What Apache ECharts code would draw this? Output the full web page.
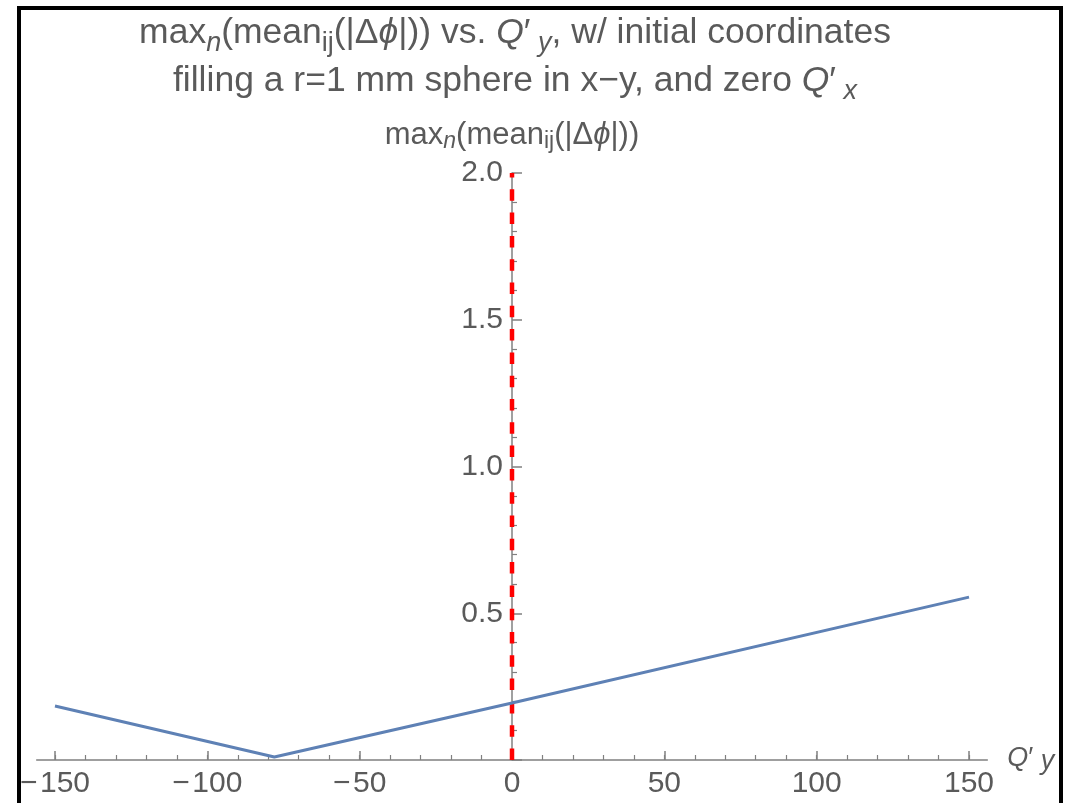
<!DOCTYPE html>
<html>
<head>
<meta charset="utf-8">
<script src="https://cdn.jsdelivr.net/npm/echarts@6/dist/echarts.min.js"></script>
<style>
  html, body { margin: 0; padding: 0; background: #fff; }
  #chart { width: 1069px; height: 803px; position: absolute; left: 0; top: 0; }
  #frame { position: absolute; left: 17px; top: 6px; width: 1038px; height: 820px;
           border: 4px solid #000; pointer-events: none; }
</style>
</head>
<body>
<div id="chart"></div>
<div id="frame"></div>
<script>
// Q'_y sweep and the resulting max_n(mean_ij(|Δφ|))
const qPrimeY = [-150, -78, 0, 150];
const maxMeanDPhi = [0.184, 0.01, 0.194, 0.555];

// vertical reference marker at Q'_y = 0
const markerX = [0, 0];
const markerY = [0, 2.0];

// axis tick positions
const xMajorTicks = [-150, -100, -50, 0, 50, 100, 150];
const xMinorTicks = [];
for (let v = -150; v <= 150; v += 10) xMinorTicks.push(v);

const FONT = '"Liberation Sans", Arial, sans-serif';
const TXT = '#5a5a5a';
const AXIS = '#808080';

const GRID_LEFT = 36.7, GRID_RIGHT = 81.7, GRID_TOP = 173, GRID_BOTTOM = 43;
const W = 1069;
const gridWidth = W - GRID_LEFT - GRID_RIGHT;

function fmtX(v) {
  return v < 0 ? '\u2212' + '\u200a' + Math.abs(v) : String(v);
}

function richSet(main, sub, lh, subLh) {
  const base = { fontFamily: FONT, color: TXT, fontWeight: 'normal' };
  return {
    m:  Object.assign({}, base, { fontSize: main, lineHeight: lh }),
    mi: Object.assign({}, base, { fontSize: main, lineHeight: lh, fontStyle: 'italic' }),
    s:  Object.assign({}, base, { fontSize: sub, lineHeight: subLh, verticalAlign: 'bottom' }),
    si: Object.assign({}, base, { fontSize: sub, lineHeight: subLh, verticalAlign: 'bottom', fontStyle: 'italic' })
  };
}

// axis name Q'_y: the subscript sits a few pixels below the Q
const qRich = {
  q:  { fontSize: 27, fontFamily: FONT, color: TXT, lineHeight: 30, verticalAlign: 'top', fontStyle: 'italic' },
  p:  { fontSize: 27, fontFamily: FONT, color: TXT, lineHeight: 30, verticalAlign: 'top' },
  si: { fontSize: 27, fontFamily: FONT, color: TXT, lineHeight: 30, verticalAlign: 'bottom',
        padding: [14, 0, 0, 0], fontStyle: 'italic' }
};

const chart = echarts.init(document.getElementById('chart'), null, { renderer: 'canvas' });

chart.setOption({
  backgroundColor: '#ffffff',
  animation: false,
  title: {
    left: 510,
    top: 4,
    textAlign: 'center',
    text: '{m|max}{si|n}{m|(mean}{s|ij}{m|(|\u0394}{mi|\u03d5}{m||)) vs. }{mi|Q}{m|\u2032}{si| y}{m|, w/ initial coordinates}\n' +
          '{m|filling a r=1 mm sphere in x\u2212y, and zero }{mi|Q}{m|\u2032}{si| x}',
    textStyle: { fontWeight: 'normal', rich: richSet(35.5, 27, 48, 36) }
  },
  grid: { left: GRID_LEFT, right: GRID_RIGHT, top: GRID_TOP, bottom: GRID_BOTTOM,
          containLabel: false, outerBoundsMode: 'none' },
  xAxis: [
    {
      type: 'value', min: -156, max: 156,
      axisLine: { show: true, onZero: true, lineStyle: { color: AXIS, width: 1.5 } },
      axisTick: { show: true, inside: true, length: 9, customValues: xMajorTicks,
                  lineStyle: { color: AXIS, width: 1.5 } },
      axisLabel: { show: true, customValues: xMajorTicks, formatter: fmtX, margin: 9,
                   fontSize: 30, fontFamily: FONT, color: TXT },
      splitLine: { show: false },
      name: '{q|Q}{p|\u2032}{si| y}',
      nameLocation: 'end',
      nameGap: 20,
      nameTextStyle: { rich: qRich, align: 'left', verticalAlign: 'middle' }
    },
    {
      type: 'value', min: -156, max: 156, position: 'bottom',
      axisLine: { show: false, onZero: true },
      axisTick: { show: true, inside: true, length: 5, customValues: xMinorTicks,
                  lineStyle: { color: AXIS, width: 1.2 } },
      axisLabel: { show: false },
      splitLine: { show: false }
    }
  ],
  yAxis: {
    type: 'value', min: 0, max: 2, interval: 0.5,
    position: 'left',
    offset: -gridWidth / 2,
    axisLine: { show: true, onZero: false, lineStyle: { color: AXIS, width: 1.5 } },
    axisTick: { show: true, inside: true, length: 10, lineStyle: { color: AXIS, width: 1.5 } },
    minorTick: { show: true, splitNumber: 5, length: 5, lineStyle: { color: AXIS, width: 1.2 } },
    axisLabel: { margin: 9, fontSize: 30, fontFamily: FONT, color: TXT,
                 formatter: v => (v === 0 ? '' : v.toFixed(1)) },
    splitLine: { show: false },
    name: '{m|max}{si|n}{m|(mean}{s|ij}{m|(|\u0394}{mi|\u03d5}{m||))}',
    nameLocation: 'end',
    nameGap: 20,
    nameTextStyle: { rich: richSet(31, 23, 36, 30), align: 'center' }
  },
  series: [
    {
      type: 'line',
      data: markerX.map((x, i) => [x, markerY[i]]),
      xAxisIndex: 0,
      symbol: 'none',
      lineStyle: { color: '#ff0000', width: 4.5, type: [11.5, 11.8] },
      z: 1
    },
    {
      type: 'line',
      data: qPrimeY.map((x, i) => [x, maxMeanDPhi[i]]),
      xAxisIndex: 0,
      symbol: 'none',
      lineStyle: { color: '#5e81b5', width: 3 },
      z: 2
    }
  ]
});
</script>
</body>
</html>
